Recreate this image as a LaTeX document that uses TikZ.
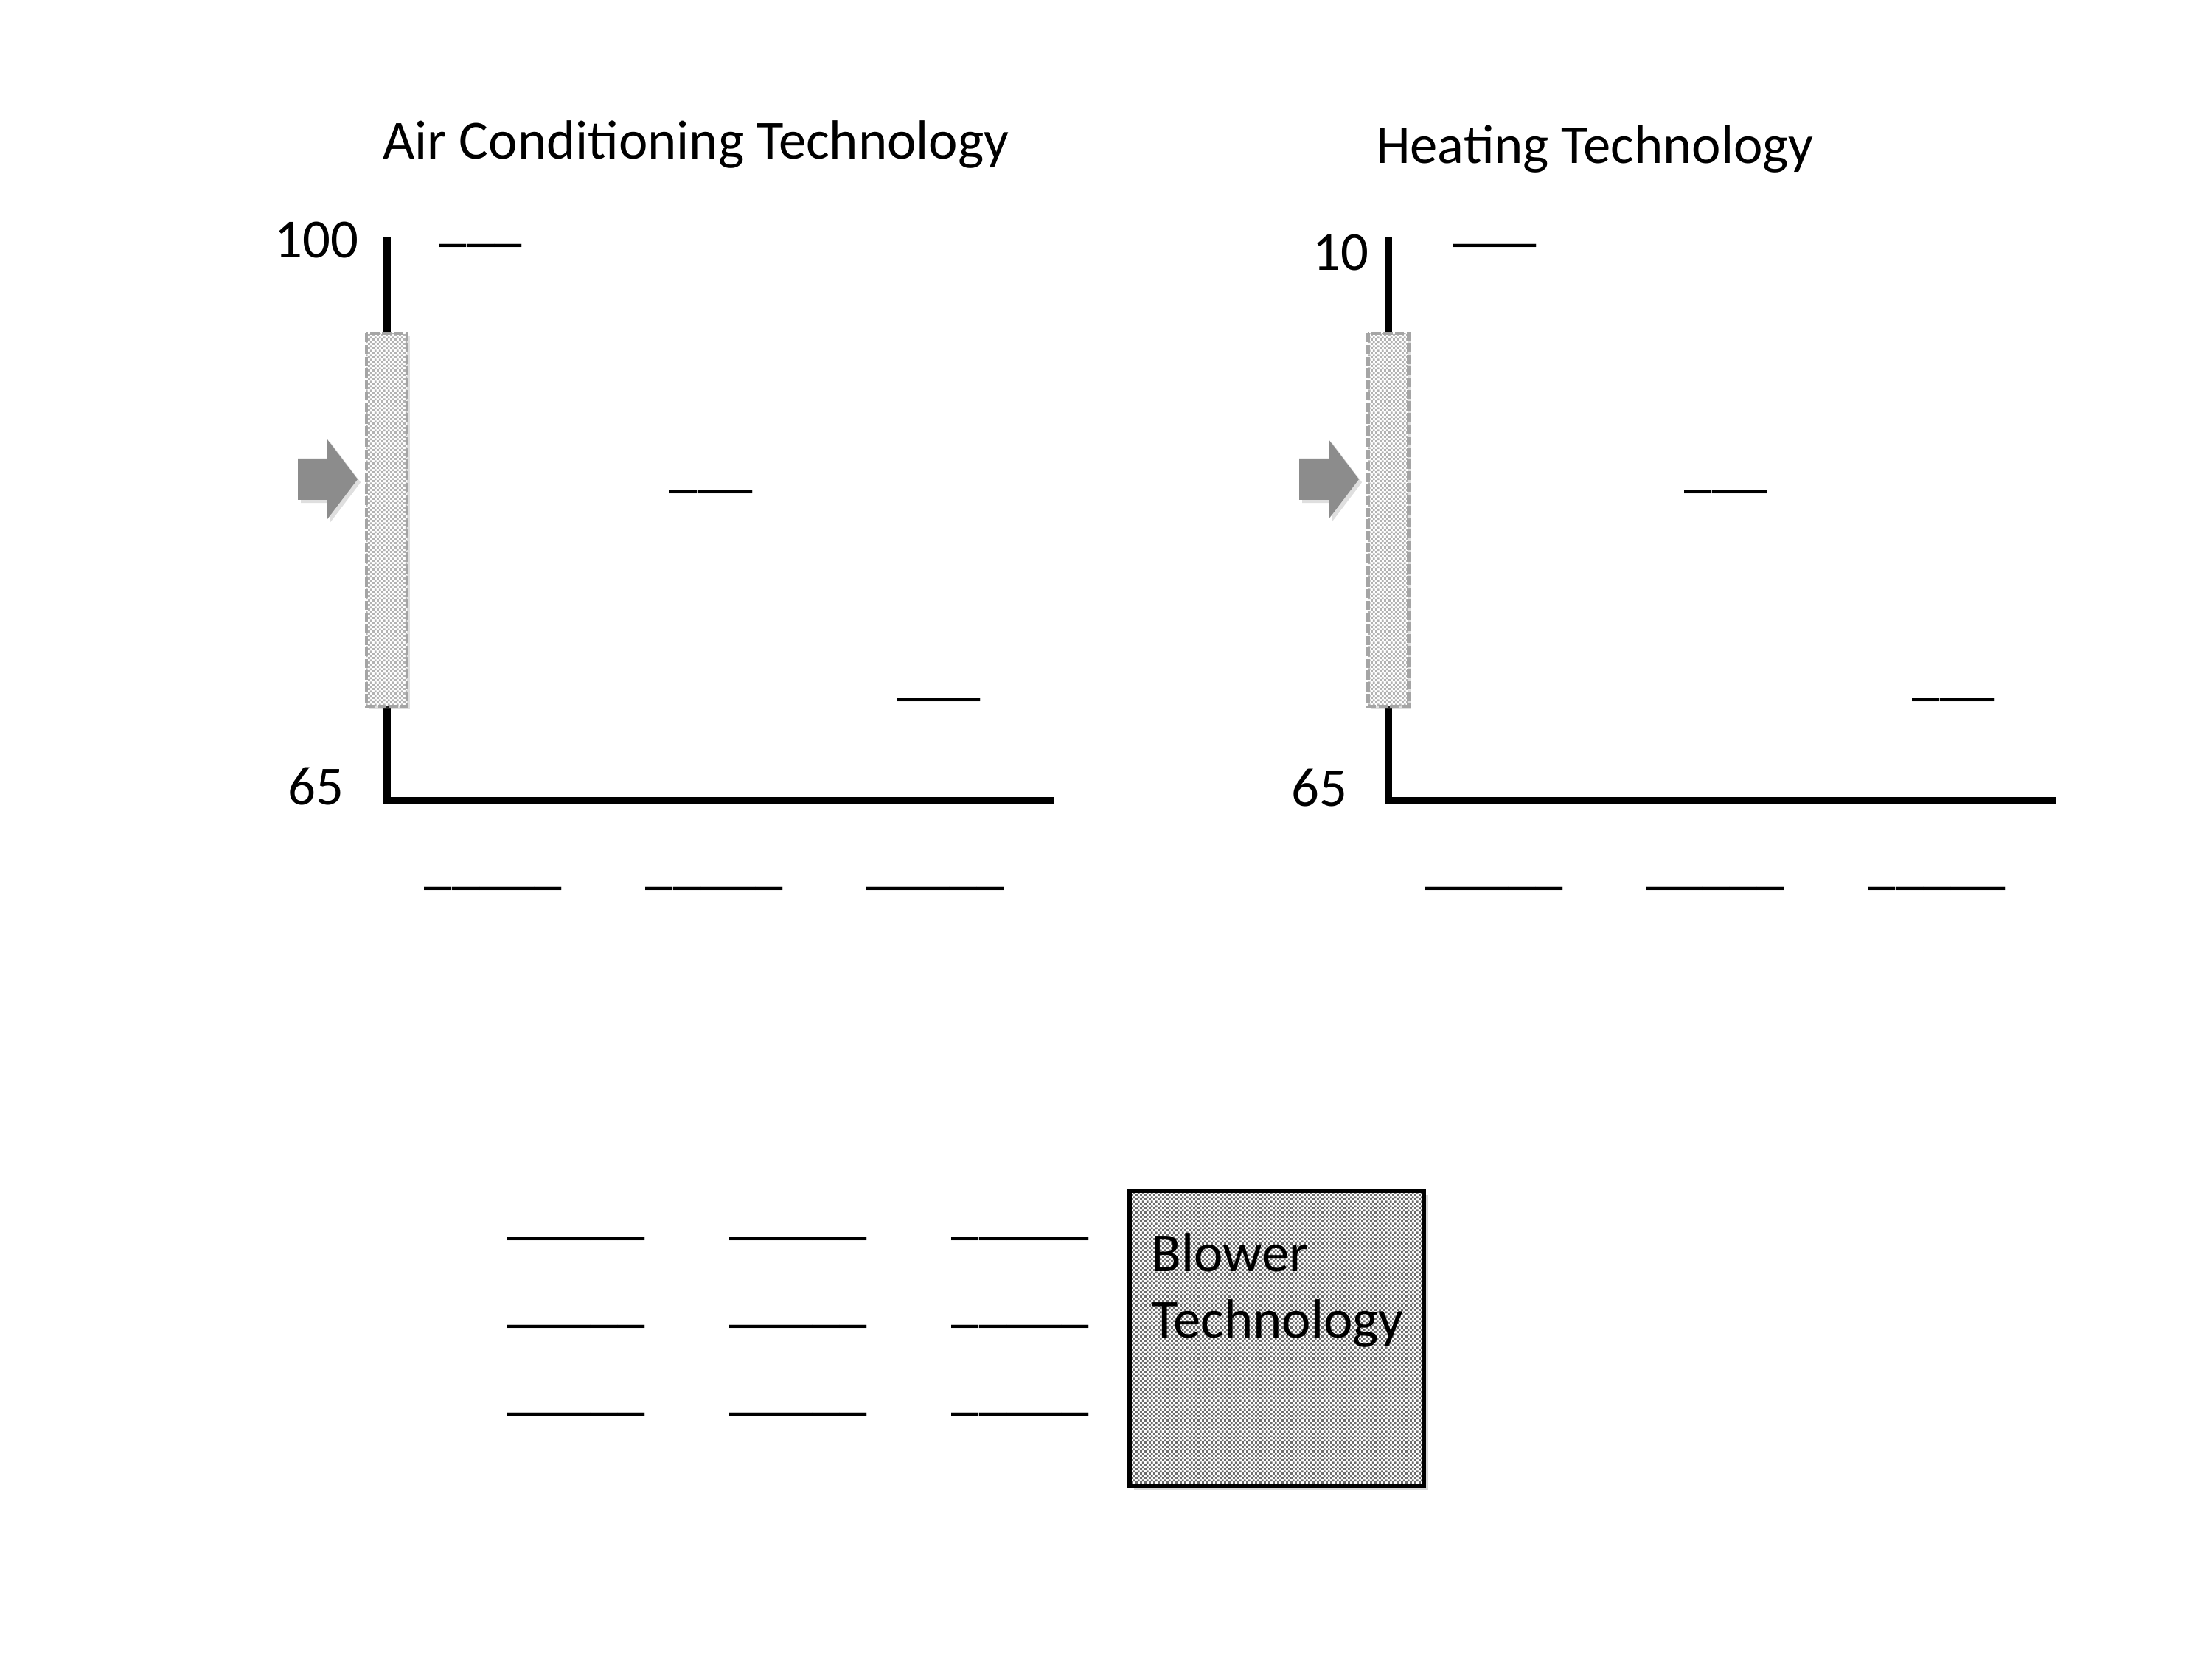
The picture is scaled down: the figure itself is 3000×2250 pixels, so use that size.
\documentclass[tikz,border=0pt]{standalone}
\usepackage{fontspec}
\setmainfont{Carlito}
\usetikzlibrary{positioning,shadows,patterns.meta}
\definecolor{pointergray}{HTML}{8C8C8C}
\definecolor{bargray}{HTML}{A5A5A5}
\tikzdeclarepattern{
    name=fine check,
    type=uncolored,
    bounding box={(0pt,0pt) and (1.4pt,1.4pt)},
    tile size={(1.4pt,1.4pt)},
    code={
        \pgfpathrectangle{\pgfpointorigin}{\pgfpoint{0.7pt}{0.7pt}}
        \pgfpathrectangle{\pgfpoint{0.7pt}{0.7pt}}{\pgfpoint{0.7pt}{0.7pt}}
        \pgfusepath{fill}
    }
}
\tikzset{
    lbl/.style={font=\fontsize{18}{21.6}\selectfont, inner sep=0pt},
    blank/.style={lbl, anchor=base west},
    axis/.style={line width=2.25pt, black},
    range bar/.style={drop shadow={shadow xshift=1pt, shadow yshift=-1pt, opacity=0.25},
        preaction={fill=white},
        draw=bargray, line width=1.2pt, dash pattern=on 3pt off 0.8pt,
        pattern={fine check}, pattern color=black!30},
    pointer/.style={fill=pointergray,
        drop shadow={shadow xshift=1pt, shadow yshift=-1pt, opacity=0.25}},
    blower box/.style={drop shadow={shadow xshift=1.5pt, shadow yshift=-1.5pt, opacity=0.3},
        preaction={fill=white},
        draw=black, line width=1.4pt,
        pattern={fine check}, pattern color=black!58}
}
\begin{document}
\begin{tikzpicture}[x=0.084667mm, y=-0.084667mm]
    \useasboundingbox (0,0) rectangle (3000,2250);
    % titles and scale labels
    \node[lbl, anchor=base] (ac-title) at (944,216) {Air Conditioning Technology};
    \node[lbl, anchor=base] (ht-title) at (2163,222) {Heating Technology};
    \node[lbl, anchor=base east] (ac-max) at (487,350) {100};
    \node[lbl, anchor=base east] (ac-min) at (467,1092) {65};
    \node[lbl, anchor=base east] (ht-max) at (1857,367) {10};
    \node[lbl, anchor=base east] (ht-min) at (1828,1094) {65};
    % the two charts
    \foreach \dx/\bx/\nm in {0/0/ac, 1358/18/ht}{
        \begin{scope}[shift={(\dx,0)}]
            \coordinate (\nm-top) at (525,322);
            \coordinate (\nm-o) at (525,1086);
            \coordinate (\nm-end) at (1430,1086);
            \draw[axis] (\nm-top) -- (\nm-o) -- (\nm-end);
            \draw[range bar] (497,452) rectangle (552,958);
            \fill[pointer] (404,622) -- (444,622) -- (444,596) -- (485,650)
                -- (444,704) -- (444,678) -- (404,678) -- cycle;
            \node[blank] (\nm-hi) at (595+\bx,326) {\_\_\_};
            \node[blank] (\nm-mid) at (908+\bx,660) {\_\_\_};
            \node[blank] (\nm-lo) at (1217+\bx,942) {\_\_\_};
            \foreach \c [count=\i] in {575,875,1175}
                \node[blank] (\nm-b\i) at (\c,1197) {\_\_\_\_\_};
        \end{scope}
    }
    % blower
    \draw[blower box] (1532,1615) rectangle (1931,2015);
    \node[lbl, anchor=base west, align=left] (blower) at (1561,1814) {Blower\\Technology};
    \foreach \r [count=\j] in {1679,1798,1917}
        \foreach \c [count=\i] in {688,989,1290}
            \node[blank] (blank-\j-\i) at (\c,\r-7) {\_\_\_\_\_};
\end{tikzpicture}
\end{document}
